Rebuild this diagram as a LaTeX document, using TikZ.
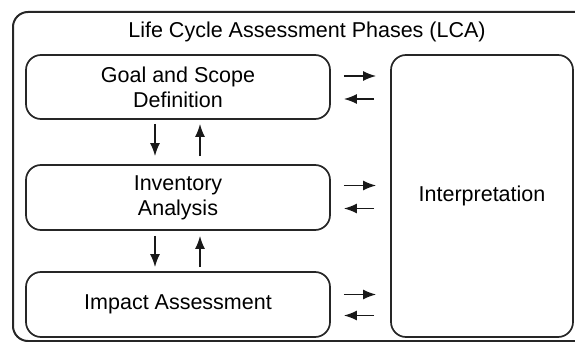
\documentclass[tikz,border=0pt]{standalone}
\usepackage{fontspec}
\setmainfont{Liberation Sans}
\usetikzlibrary{arrows.meta}

\begin{document}
\begin{tikzpicture}[x=1pt,y=-1pt,
    phase/.style={draw=black!85, line width=1.7pt, rounded corners=15pt, align=center, inner sep=0pt},
    arr/.style={draw=black!90, line width=1.6pt, -{Latex[length=13pt,width=10pt]}},
    font=\fontsize{21.5}{25}\selectfont]
            \useasboundingbox (0,0) rectangle (575,342);

            \draw[black!85, line width=2pt, rounded corners=15pt] (13,12) rectangle (600,341);
            \node (title) at (307,32) {Life Cycle Assessment Phases (LCA)};

            \node[phase, minimum width=304pt, minimum height=64pt] (goal) at (178,87) {Goal and Scope\\Definition};
            \node[phase, minimum width=304pt, minimum height=65pt] (inv) at (178,197.5) {Inventory\\Analysis};
            \node[phase, minimum width=304pt, minimum height=65pt] (imp) at (178,304.5) {Impact Assessment};
            \node[phase, minimum width=182pt, minimum height=282pt] (interp) at (482,196) {Interpretation};

            \draw[arr, shorten <=4pt, shorten >=8pt] ([xshift=-23pt]goal.south) -- ([xshift=-23pt]inv.north);
            \draw[arr, shorten <=8pt, shorten >=4pt] ([xshift=22pt]inv.north) -- ([xshift=22pt]goal.south);
            \draw[arr, shorten <=5pt, shorten >=4pt] ([xshift=-23pt]inv.south) -- ([xshift=-23pt]imp.north);
            \draw[arr, shorten <=4pt, shorten >=5pt] ([xshift=22pt]imp.north) -- ([xshift=22pt]inv.south);

            \draw[arr, shorten <=13pt, shorten >=14pt] ([yshift=11pt]goal.east) -- ([yshift=11pt]goal.east -| interp.west);
            \draw[arr, shorten <=16pt, shorten >=13pt] ([yshift=-12pt]goal.east -| interp.west) -- ([yshift=-12pt]goal.east);
            \draw[arr, shorten <=13pt, shorten >=14pt] ([yshift=12pt]inv.east) -- ([yshift=12pt]inv.east -| interp.west);
            \draw[arr, shorten <=16pt, shorten >=13pt] ([yshift=-11pt]inv.east -| interp.west) -- ([yshift=-11pt]inv.east);
            \draw[arr, shorten <=13pt, shorten >=14pt] ([yshift=10pt]imp.east) -- ([yshift=10pt]imp.east -| interp.west);
            \draw[arr, shorten <=16pt, shorten >=13pt] ([yshift=-11pt]imp.east -| interp.west) -- ([yshift=-11pt]imp.east);
\end{tikzpicture}
\end{document}
